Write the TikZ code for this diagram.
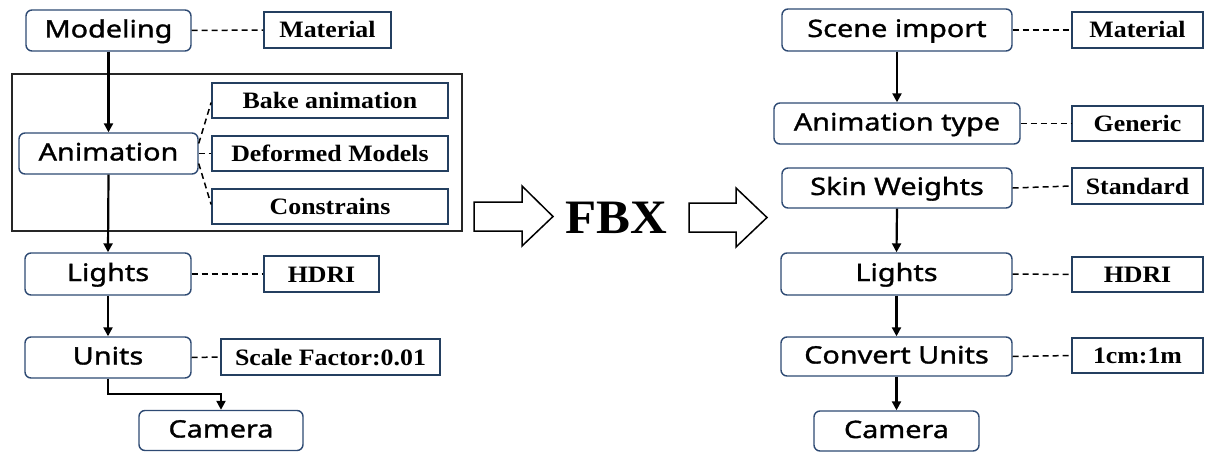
\documentclass[tikz,border=0pt]{standalone}
\usepackage{fontspec}
\newfontfamily\boxsans[FakeStretch=1.2,FakeBold=1.3]{Noto Sans}
\newfontfamily\boxserif[FakeStretch=1.1]{Liberation Serif}
\newfontfamily\bigserif[FakeStretch=1.06]{Liberation Serif}
\usetikzlibrary{arrows.meta}
\definecolor{rbord}{HTML}{2E4A73}
\definecolor{sbord}{HTML}{243F60}
\tikzset{
  stepbox/.style={draw=rbord, line width=1.4pt, rounded corners=6pt, fill=white,
    inner sep=0pt, text height=18pt, text depth=4pt,
    font=\boxsans\fontsize{24}{26}\selectfont, text=black},
  propbox/.style={draw=sbord, line width=1.7pt, fill=white, inner sep=0pt,
    text height=16pt, text depth=0pt,
    font=\boxserif\fontsize{23.5}{26}\selectfont\bfseries, text=black},
  flow/.style={line width=2.2pt, -{Triangle[length=9pt,width=9pt]}},
  link/.style={line width=1.5pt, dash pattern=on 6pt off 4pt},
  bigarrow/.style={draw=black, line width=1.5pt, fill=white, line join=miter}
}
\begin{document}
\begin{tikzpicture}[x=1pt,y=-1pt]
\useasboundingbox (0,0) rectangle (1205,452);
% frame around animation group
\draw[line width=1.8pt, draw=black!85] (12,74) rectangle (462,231);
% left column
\node[stepbox, minimum width=165pt, minimum height=41pt] (mod) at (108.5,30.5) {Modeling};
\node[propbox, minimum width=127pt, minimum height=36pt] (matL) at (327.5,30) {Material};
\node[stepbox, minimum width=179pt, minimum height=41pt] (anim) at (108.5,153.5) {Animation};
\node[propbox, minimum width=236pt, minimum height=35pt] (bake) at (330,100.5) {Bake animation};
\node[propbox, minimum width=236pt, minimum height=35pt] (deform) at (330,153.5) {Deformed Models};
\node[propbox, minimum width=236pt, minimum height=35pt] (constr) at (330,206.5) {Constrains};
\node[stepbox, minimum width=166pt, minimum height=42pt] (lightsL) at (108,274) {Lights};
\node[propbox, minimum width=115pt, minimum height=36pt] (hdriL) at (321.5,274) {HDRI};
\node[stepbox, minimum width=166pt, minimum height=41pt] (units) at (108,357.5) {Units};
\node[propbox, minimum width=219pt, minimum height=36pt] (scale) at (330.5,357) {Scale Factor:0.01};
\node[stepbox, minimum width=164pt, minimum height=40pt] (camL) at (221,430.5) {Camera};
% left connectors
\draw[flow] (mod.south) -- (anim.north);
\draw[flow] (anim.south) -- (lightsL.north);
\draw[flow] (lightsL.south) -- (units.north);
\draw[flow] (units.south) -- ++(0,15) -| (camL.north);
\draw[link] (mod.east) -- (matL.west);
\draw[link] ([yshift=10pt]anim.east) -- ([yshift=-2pt]bake.west);
\draw[link] (anim.east) -- (deform.west);
\draw[link] ([yshift=-10pt]anim.east) -- ([yshift=2pt]constr.west);
\draw[link] (lightsL.east) -- (hdriL.west);
\draw[link] (units.east) -- (scale.west);
% middle
\draw[bigarrow] (474,202) -- (522,202) -- (522,186) -- (553,216.5) -- (522,246) -- (522,231) -- (474,231) -- cycle;
\node[inner sep=0pt, font=\bigserif\fontsize{48}{50}\selectfont\bfseries] (fbx) at (616,218) {FBX};
\draw[bigarrow] (689,203) -- (736,203) -- (736,188) -- (767,217.5) -- (736,247) -- (736,232) -- (689,232) -- cycle;
% right column
\node[stepbox, minimum width=230pt, minimum height=42pt] (scene) at (897,30) {Scene import};
\node[propbox, minimum width=131pt, minimum height=36pt] (matR) at (1137.5,30) {Material};
\node[stepbox, minimum width=246pt, minimum height=41pt] (atype) at (897,123.5) {Animation type};
\node[propbox, minimum width=131pt, minimum height=35pt] (gen) at (1137.5,123.5) {Generic};
\node[stepbox, minimum width=230pt, minimum height=40pt] (skin) at (897,188) {Skin Weights};
\node[propbox, minimum width=131pt, minimum height=36pt] (std) at (1137.5,186) {Standard};
\node[stepbox, minimum width=231pt, minimum height=42pt] (lightsR) at (896.5,274) {Lights};
\node[propbox, minimum width=131pt, minimum height=35pt] (hdriR) at (1137.5,274.5) {HDRI};
\node[stepbox, minimum width=231pt, minimum height=39pt] (conv) at (896.5,356.5) {Convert Units};
\node[propbox, minimum width=131pt, minimum height=35pt] (cm) at (1137.5,355.5) {1cm:1m};
\node[stepbox, minimum width=165pt, minimum height=40pt] (camR) at (896.5,431) {Camera};
% right connectors
\draw[flow] (scene.south) -- (atype.north);
\draw[flow] (skin.south) -- (lightsR.north);
\draw[flow] (lightsR.south) -- (conv.north);
\draw[flow] (conv.south) -- (camR.north);
\draw[link] (scene.east) -- (matR.west);
\draw[link] (atype.east) -- (gen.west);
\draw[link] (skin.east) -- (std.west);
\draw[link] (lightsR.east) -- (hdriR.west);
\draw[link] (conv.east) -- (cm.west);
\end{tikzpicture}
\end{document}
